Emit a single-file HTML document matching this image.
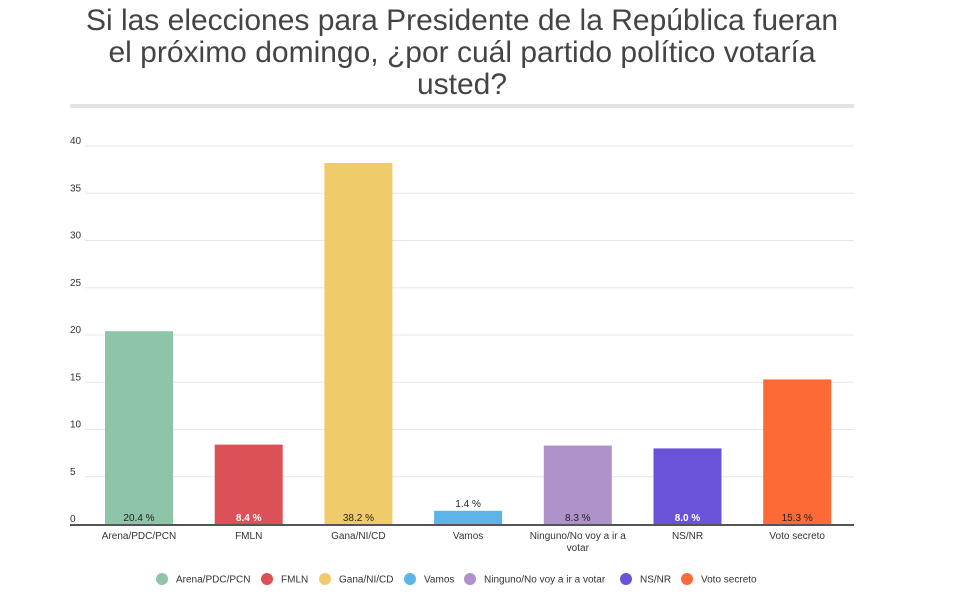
<!DOCTYPE html>
<html><head><meta charset="utf-8"><style>
body{margin:0;background:#fff;font-family:"Liberation Sans",sans-serif}
svg text{font-family:"Liberation Sans",sans-serif}
</style></head><body>
<svg id="c" width="958" height="600" xmlns="http://www.w3.org/2000/svg">
<text x="462" y="30" text-anchor="middle" font-size="30" fill="#444"><tspan x="462" y="30">Si las elecciones para Presidente de la República fueran</tspan><tspan x="462" y="62">el próximo domingo, ¿por cuál partido político votaría</tspan><tspan x="462" y="94">usted?</tspan></text>
<rect x="70" y="104" width="784" height="4" fill="#e3e3e3"/>
<g id="grid"></g><g id="bars"></g><g id="legend"></g>
</svg>
<script>
const categories=["Arena/PDC/PCN","FMLN","Gana/NI/CD","Vamos","Ninguno/No voy a ir a votar","NS/NR","Voto secreto"];
const values=[20.4,8.4,38.2,1.4,8.3,8.0,15.3];
const valueLabels=["20.4 %","8.4 %","38.2 %","1.4 %","8.3 %","8.0 %","15.3 %"];
const colors=["#8ec4a8","#db5157","#f0cb6a","#5db4e6","#ae92c9","#6c52d9","#fe6a35"];
const ticks=[0,5,10,15,20,25,30,35,40];
const NS="http://www.w3.org/2000/svg";
const y0=524,yTop=146,maxV=40,x0=85,step=109.7,bw=68;
const y=v=>y0-(v/maxV)*(y0-yTop);
const xc=i=>x0+20+bw/2+i*step;
function mk(t,a,p){const e=document.createElementNS(NS,t);for(const k in a)e.setAttribute(k,a[k]);p.appendChild(e);return e;}
const g=document.getElementById('grid');
ticks.forEach(t=>{
  if(t>0){const l=mk('line',{x1:85,x2:854,y1:y(t),y2:y(t),stroke:'#e6e6e6','stroke-width':1},g);
  
  }
  const tx=mk('text',{x:70,y:y(t)-2,'font-size':10,fill:'#333'},g);tx.textContent=t;
  
  
});
const b=document.getElementById('bars');
values.forEach((v,i)=>{
  const r=mk('rect',{x:xc(i)-bw/2,y:y(v),width:bw,height:y0-y(v),fill:colors[i]},b);
  
  
  const inside=(y0-y(v))>18;
  const white=(i==1||i==5);
  const lt=mk('text',{x:xc(i),y:inside?y0-3:y(v)-4,'text-anchor':'middle','font-size':10,fill:white?'#fff':'#222','font-weight':white?'bold':'normal'},b);
  lt.textContent=valueLabels[i];
  
  
  const parts=categories[i]=="Ninguno/No voy a ir a votar"?["Ninguno/No voy a ir a","votar"]:[categories[i]];
  parts.forEach((p,j)=>{const ct=mk('text',{x:xc(i),y:539+j*12,'text-anchor':'middle','font-size':10,fill:'#333'},b);ct.textContent=p;
  
  });
});
const ax=mk('line',{x1:70,x2:854,y1:y0+1,y2:y0+1,stroke:'#555','stroke-width':2},b);


const lg=document.getElementById('legend');
const lx=[162,267,325,410,470,626,687];
categories.forEach((c,i)=>{
  const ci=mk('circle',{cx:lx[i],cy:579,r:6,fill:colors[i]},lg);
  
  
  const t=mk('text',{x:lx[i]+14,y:582.5,'font-size':10,fill:'#333'},lg);t.textContent=c;
  
  
});
</script>
</body></html>
